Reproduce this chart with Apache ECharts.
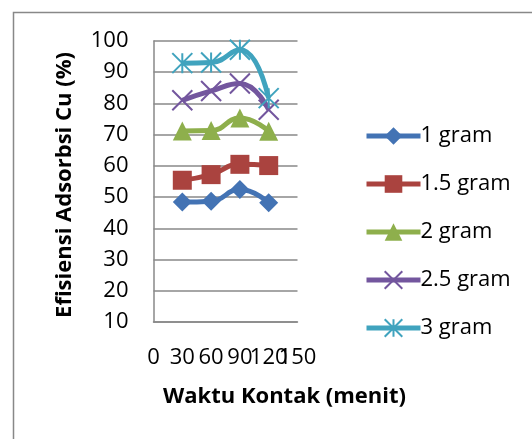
<!DOCTYPE html>
<html>
<head>
<meta charset="utf-8">
<script src="https://cdn.jsdelivr.net/npm/echarts@6/dist/echarts.min.js"></script>
<style>
html,body{margin:0;padding:0;background:#fff;}
#c{width:532px;height:439px;}
</style>
</head>
<body>
<div id="c"></div>
<script>
const xValues = [30, 60, 90, 120];
const seriesNames = ['1 gram', '1.5 gram', '2 gram', '2.5 gram', '3 gram'];
const gram1 = [48.4, 48.7, 52.4, 48.2];
const gram15 = [55.4, 57.2, 60.5, 60.1];
const gram2 = [71.2, 71.3, 75.3, 71.1];
const gram25 = [81.0, 84.0, 86.4, 78.0];
const gram3 = [92.9, 93.1, 97.2, 81.7];
const xTicks = [0, 30, 60, 90, 120, 150];
const yTicks = [10, 20, 30, 40, 50, 60, 70, 80, 90, 100];
const xTitle = 'Waktu Kontak (menit)';
const yTitle = 'Efisiensi Adsorbsi Cu (%)';

const allValues = [gram1, gram15, gram2, gram25, gram3];
const colors = ['#4373B4', '#AA433F', '#8EAF4C', '#73569E', '#40A3BE'];
const symbols = [
  'diamond',
  'rect',
  'triangle',
  'path://M0,0L10,10M10,0L0,10',
  'path://M5,0L5,10M0,0L10,10M10,0L0,10'
];
const sizes = [19, 19, 19, 20, 20];

const series = allValues.map((vals, i) => ({
  name: seriesNames[i],
  type: 'line',
  xAxisIndex: 0,
  smooth: 0.5,
  data: vals.map((v, j) => [xValues[j], v]),
  symbol: symbols[i],
  symbolSize: sizes[i],
  showAllSymbol: true,
  lineStyle: { color: colors[i], width: 5 },
  itemStyle: {
    color: colors[i],
    borderColor: colors[i],
    borderWidth: i >= 3 ? 2 : 0
  },
  emphasis: { disabled: true },
  animation: false
}));

// Two overlaid x axes so that Excel-style overlapping tick labels all show
function xAxisFor(part, showLine) {
  return {
    type: 'value',
    position: 'bottom',
    min: xTicks[0],
    max: xTicks[xTicks.length - 1],
    interval: 30,
    axisLine: { show: showLine, onZero: false, lineStyle: { color: '#888888', width: 1.5 } },
    axisTick: { show: false },
    splitLine: { show: false },
    axisLabel: {
      interval: 0,
      margin: 25,
      color: '#000',
      fontFamily: 'Open Sans',
      fontSize: 22,
      showMinLabel: true,
      showMaxLabel: true,
      hideOverlap: false,
      formatter: function (v) {
        const idx = xTicks.indexOf(v);
        return (idx >= 0 && idx % 2 === part) ? String(xTicks[idx]) : '';
      }
    }
  };
}

const chart = echarts.init(document.getElementById('c'), null, { renderer: 'canvas' });
chart.setOption({
  animation: false,
  backgroundColor: '#ffffff',
  grid: { left: 153.5, right: 234.5, top: 41, bottom: 117, containLabel: false },
  xAxis: [xAxisFor(0, true), xAxisFor(1, false)],
  yAxis: {
    type: 'value',
    min: yTicks[0],
    max: yTicks[yTicks.length - 1],
    interval: 10,
    axisLine: { show: true, lineStyle: { color: '#888888', width: 1.5 } },
    axisTick: { show: false },
    splitLine: { show: true, lineStyle: { color: '#888888', width: 1.5 } },
    axisLabel: {
      margin: 25,
      color: '#000',
      fontFamily: 'Open Sans',
      fontSize: 22
    }
  },
  legend: {
    orient: 'vertical',
    left: 359,
    top: 120,
    itemWidth: 54,
    itemHeight: 22,
    itemGap: 26,
    data: seriesNames,
    lineStyle: { width: 5 },
    textStyle: { fontFamily: 'Open Sans', fontSize: 22, color: '#000', padding: [0, 0, 0, -5] },
    selectedMode: false
  },
  graphic: [
    {
      type: 'rect',
      shape: { x: 13.5, y: 12.5, width: 700, height: 700 },
      style: { fill: 'none', stroke: '#888888', lineWidth: 1.5 },
      silent: true
    },
    {
      type: 'text',
      x: 65, y: 185,
      rotation: Math.PI / 2,
      style: {
        text: yTitle,
        fontFamily: 'Open Sans',
        fontWeight: 'bold',
        fontSize: 22,
        fill: '#000',
        align: 'center',
        verticalAlign: 'middle'
      }
    },
    {
      type: 'text',
      x: 284.5, y: 397,
      style: {
        text: xTitle,
        fontFamily: 'Open Sans',
        fontWeight: 'bold',
        fontSize: 22,
        fill: '#000',
        align: 'center',
        verticalAlign: 'middle'
      }
    }
  ],
  series: series
});
</script>
</body>
</html>
